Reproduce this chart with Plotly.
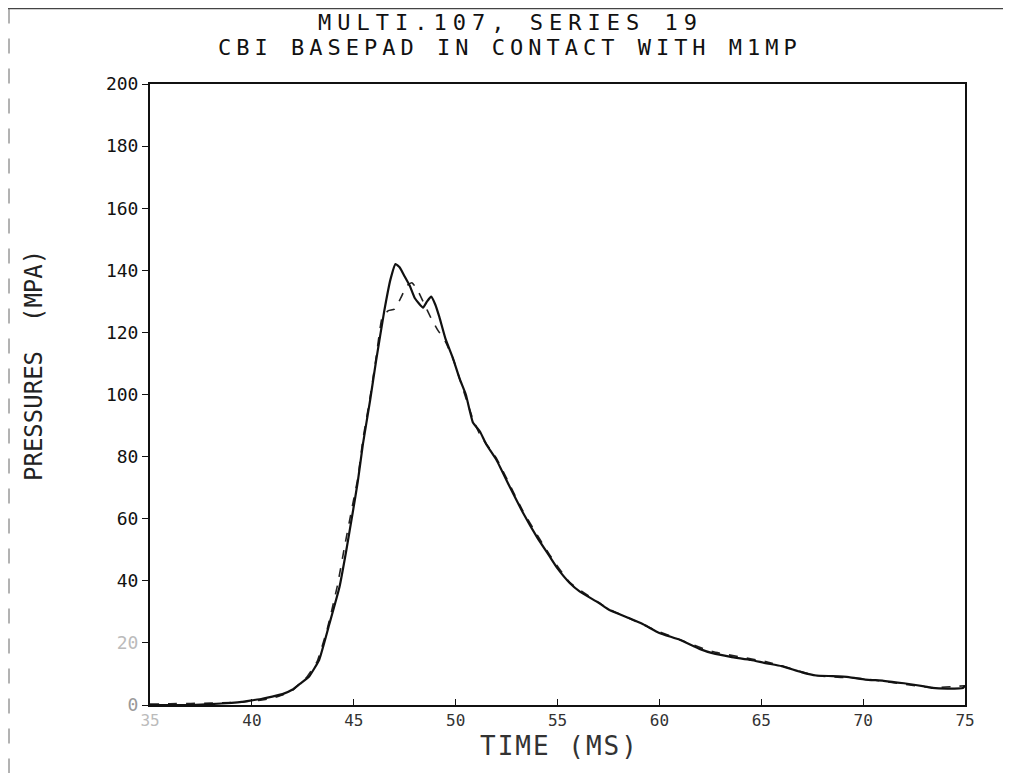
import plotly.graph_objects as go

# ---- data ----
time_solid = [35, 36, 37, 38, 39, 39.5, 40, 40.5, 41, 41.5, 42, 42.35, 42.8, 43.3, 43.8,
              44.3, 44.64, 44.95, 45.2, 45.45, 45.8, 46.1, 46.5, 46.8, 47.05, 47.25, 47.5,
              47.75, 48.0, 48.4, 48.6, 48.8, 49.0, 49.2, 49.5, 49.85, 50.2, 50.5, 50.85,
              51.2, 51.5, 52.0, 52.6, 53.3, 54.0, 54.6, 55.0, 55.6, 56.1, 57.0, 57.55,
              58.5, 59.2, 60.0, 61.0, 62.0, 62.6, 63.5, 64.5, 65.2, 66.0, 67.0, 67.7,
              68.5, 69.3, 70.1, 71.0, 72.0, 73.0, 73.4, 74.2, 74.9, 75.0]
pres_solid = [0, 0, 0, 0.3, 0.7, 1.0, 1.5, 2.0, 2.7, 3.5, 5.0, 6.8, 9.1, 14.5, 26,
              38, 50, 62, 72, 84, 98, 111, 127, 137, 142, 141, 138,
              135, 131, 128, 130, 131.5, 129, 125, 118, 112, 105, 100, 91,
              88, 84, 79, 71, 62, 54, 48, 44, 39.3, 36.5, 33, 30.6,
              28, 26, 23.2, 21, 18, 16.7, 15.5, 14.5, 13.5, 12.5, 10.5, 9.5,
              9.3, 9.0, 8.2, 7.8, 7.0, 6.0, 5.5, 5.3, 5.5, 6.2]

time_dash = [35, 36, 37, 38, 39, 39.5, 40, 40.5, 41, 41.5, 42, 42.3, 42.7, 43.2, 43.7,
             44.2, 44.55, 44.9, 45.2, 45.45, 45.8, 46.1, 46.4, 46.7, 47.0, 47.3, 47.6,
             47.85, 48.1, 48.4, 48.8, 49.1, 49.5, 49.9, 50.3, 50.8, 51.2, 52.0, 53.3,
             54.6, 55.6, 57.5, 60.0, 62.6, 65.2, 67.7, 70.1, 73.4, 75.0]
pres_dash = [0.3, 0.4, 0.5, 0.6, 0.8, 1.0, 1.3, 1.6, 2.2, 3.2, 4.8, 6.6, 9.0, 14.0, 24.5,
             38.5, 51, 63, 73, 85.5, 99, 112, 125, 127, 127.5, 131, 135,
             136, 134, 130, 124.5, 121, 117, 111, 103, 93, 87, 79.5, 62.5,
             48.5, 39.5, 31, 23.6, 17.2, 14, 9.5, 8.4, 5.6, 6.2]

x_ticks = [35, 40, 45, 50, 55, 60, 65, 70, 75]
x_ticktext = ["<span style='color:#bbbbbb'>35</span>", "40", "45", "50", "55", "60", "65", "70", "75"]
y_ticks = [0, 20, 40, 60, 80, 100, 120, 140, 160, 180, 200]
y_ticktext = ["<span style='color:#999999'>0</span>", "<span style='color:#bbbbbb'>20</span>",
              "40", "60", "80", "100", "120", "140", "160", "180", "200"]

title_line1 = "MULTI.107, SERIES 19"
title_line2 = "CBI BASEPAD IN CONTACT WITH M1MP"
x_label = "TIME (MS)"
y_label = "PRESSURES  (MPA)"

FONT = "DejaVu Sans Mono"

fig = go.Figure()
fig.add_trace(go.Scatter(x=time_dash, y=pres_dash, mode="lines",
                         line=dict(color="#222222", width=1.6, dash="dash",
                                   shape="spline", smoothing=0.4),
                         showlegend=False))
fig.add_trace(go.Scatter(x=time_solid, y=pres_solid, mode="lines",
                         line=dict(color="#111111", width=2.2,
                                   shape="spline", smoothing=0.4),
                         showlegend=False))

OFF = 8  # page body margin
W, H = 1011 - OFF, 773 - OFF
L, T = 150 - OFF, 84 - OFF
R = W - (965 - OFF)
B = H - (705 - OFF)
pw, ph = W - L - R, H - T - B

def px(x):  # page pixel -> paper fraction
    return (x - OFF - L) / pw

def py(y):
    return (H - B - (y - OFF)) / ph

def spaced(s, ls):
    return f"<span style='letter-spacing:{ls}px'>{s}</span>"

fig.update_layout(
    width=W, height=H,
    margin=dict(l=L, r=R, t=T, b=B),
    paper_bgcolor="white", plot_bgcolor="white",
    font=dict(family=FONT, color="#111111"),
    xaxis=dict(range=[35, 75], tickvals=x_ticks, ticktext=x_ticktext,
               showgrid=False, zeroline=False,
               showline=True, linecolor="#111111", linewidth=2, mirror=True,
               ticks="inside", ticklen=6, tickcolor="#111111",
               tickfont=dict(family=FONT, size=16, color="#333333")),
    yaxis=dict(range=[0, 200], tickvals=y_ticks, ticktext=y_ticktext,
               showgrid=False, zeroline=False,
               showline=True, linecolor="#111111", linewidth=2, mirror=True,
               ticks="outside", ticklen=6, tickcolor="#111111",
               tickfont=dict(family=FONT, size=18, color="#111111")),
    annotations=[
        dict(text=spaced(title_line1, 6), xref="paper", yref="paper", x=px(510), y=py(22),
             xanchor="center", yanchor="middle", showarrow=False,
             font=dict(family=FONT, size=22, color="#111111")),
        dict(text=spaced(title_line2, 5), xref="paper", yref="paper", x=px(510), y=py(48),
             xanchor="center", yanchor="middle", showarrow=False,
             font=dict(family=FONT, size=22, color="#111111")),
        dict(text=spaced(x_label, 2), xref="paper", yref="paper", x=px(559), y=py(746),
             xanchor="center", yanchor="middle", showarrow=False,
             font=dict(family=FONT, size=26, color="#333333")),
        dict(text=y_label, xref="paper", yref="paper", x=px(34), y=py(365),
             xanchor="center", yanchor="middle", showarrow=False, textangle=-90,
             font=dict(family=FONT, size=24, color="#222222")),
    ],
    shapes=[
        dict(type="line", xref="paper", yref="paper", x0=px(8), x1=px(1011), y0=py(8.5), y1=py(8.5),
             line=dict(color="#444444", width=1.5)),
        dict(type="line", xref="paper", yref="paper", x0=px(9), x1=px(9), y0=py(8.5), y1=py(773),
             line=dict(color="#666666", width=1, dash="longdash")),
    ],
)

fig.write_html("out.html")
